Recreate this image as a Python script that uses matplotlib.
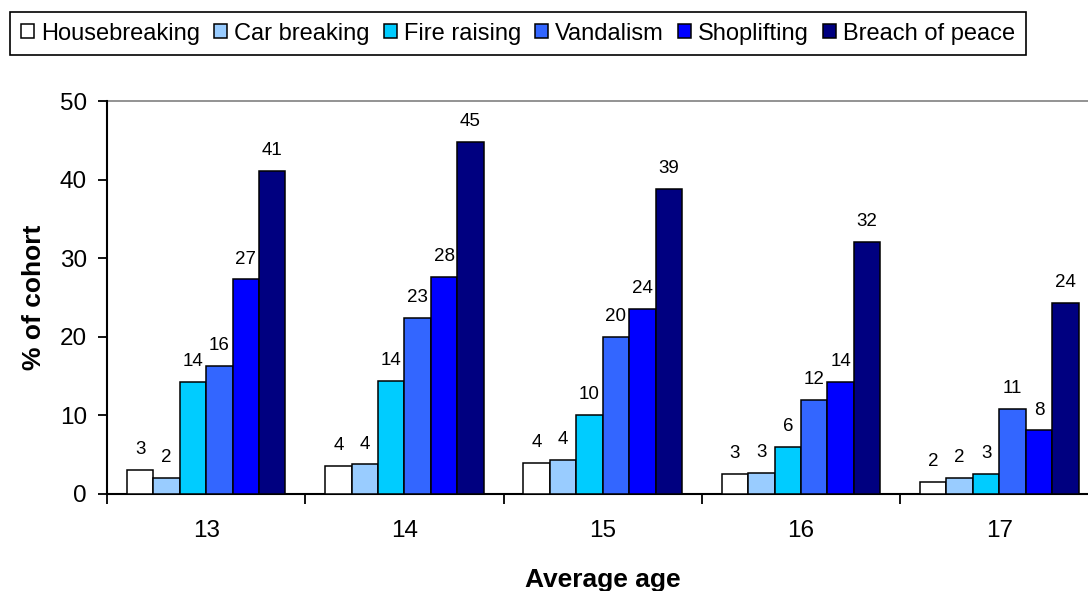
import numpy as np
import matplotlib
matplotlib.use("Agg")
import matplotlib.pyplot as plt
from matplotlib.ticker import FixedLocator, NullFormatter

plt.rcParams["font.family"] = ["Liberation Sans", "DejaVu Sans"]

ages = ["13", "14", "15", "16", "17"]
series = ["Housebreaking", "Car breaking", "Fire raising", "Vandalism",
          "Shoplifting", "Breach of peace"]
colors = ["#FFFFFF", "#99CCFF", "#00CCFF", "#3366FF", "#0000FF", "#000080"]

housebreaking = [3.05, 3.56, 3.99, 2.54, 1.5]
car_breaking = [2.0, 3.77, 4.33, 2.65, 2.0]
fire_raising = [14.25, 14.4, 10.05, 6.0, 2.6]
vandalism = [16.3, 22.4, 20.0, 12.0, 10.8]
shoplifting = [27.3, 27.6, 23.5, 14.3, 8.1]
breach_of_peace = [41.1, 44.8, 38.8, 32.1, 24.3]
values = [housebreaking, car_breaking, fire_raising, vandalism,
          shoplifting, breach_of_peace]

# labels as printed on the chart (rounded values)
labels = [
    ["3", "4", "4", "3", "2"],
    ["2", "4", "4", "3", "2"],
    ["14", "14", "10", "6", "3"],
    ["16", "23", "20", "12", "11"],
    ["27", "28", "24", "14", "8"],
    ["41", "45", "39", "32", "24"],
]

fig = plt.figure(figsize=(10.88, 5.91), dpi=100)
ax = fig.add_axes([107 / 1088, 1 - 494 / 591, (1098.5 - 107) / 1088, 393 / 591])

n = len(series)
width = 0.8 / n
x = np.arange(len(ages))
for i, (name, vals, col, labs) in enumerate(zip(series, values, colors, labels)):
    pos = x - 0.4 + width * (i + 0.5)
    bars = ax.bar(pos, vals, width, color=col, edgecolor="black",
                  linewidth=1.1, label=name, zorder=3)
    for b, lab in zip(bars, labs):
        ax.annotate(lab, (b.get_x() + b.get_width() / 2, b.get_height()),
                    xytext=(0, 8.5), textcoords="offset points",
                    ha="center", va="bottom", fontsize=13.5)

ax.set_xlim(-0.5, len(ages) - 0.5)
ax.set_ylim(0, 50)
ax.set_yticks(range(0, 51, 10))
ax.axhline(50, color="#808080", linewidth=1.2, zorder=1, clip_on=False)

ax.xaxis.set_major_locator(FixedLocator(np.arange(len(ages) + 1) - 0.5))
ax.xaxis.set_major_formatter(NullFormatter())
ax.xaxis.set_minor_locator(FixedLocator(x))
ax.set_xticklabels(ages, minor=True)
ax.tick_params(axis="x", which="major", length=7, width=1.3, direction="out")
ax.tick_params(axis="x", which="minor", length=0, pad=19, labelsize=17.5)
ax.tick_params(axis="y", length=6.5, width=1.3, pad=8, labelsize=17.5)

for s in ["top", "right"]:
    ax.spines[s].set_visible(False)
ax.spines["left"].set_linewidth(1.5)
ax.spines["bottom"].set_linewidth(1.5)

ax.set_ylabel("% of cohort", fontsize=19, fontweight="bold", labelpad=10)
ax.set_xlabel("Average age", fontsize=19, fontweight="bold", labelpad=18.5)

leg = fig.legend(loc="upper left", bbox_to_anchor=(10 / 1088, 1 - 12 / 591),
                 ncol=6, fontsize=17, frameon=True, fancybox=False,
                 edgecolor="black", framealpha=1, borderpad=0.45,
                 handlelength=0.55, handleheight=0.55, handletextpad=0.3,
                 columnspacing=0.6, borderaxespad=0)
leg.get_frame().set_linewidth(1.2)

fig.savefig("out.png", dpi=100)
